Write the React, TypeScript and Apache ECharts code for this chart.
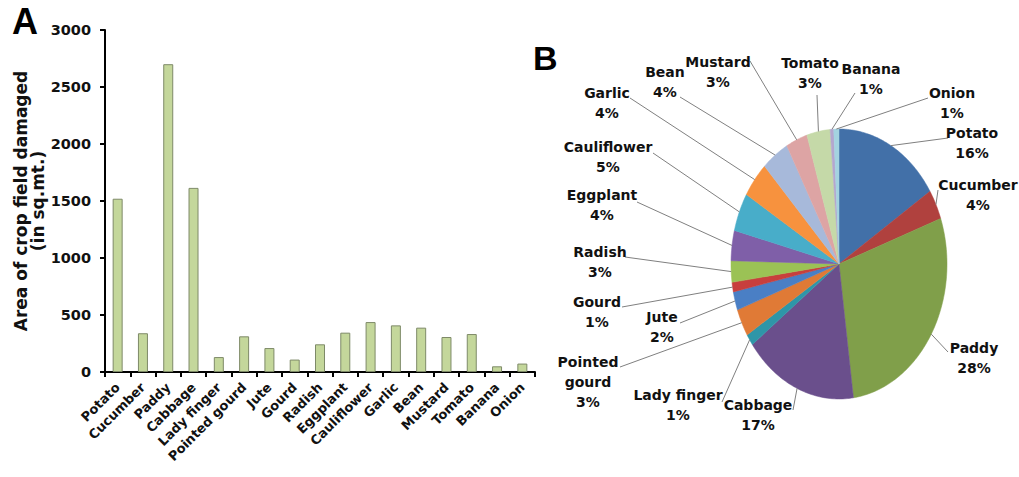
import { useEffect, useRef } from "react";
import * as echarts from "echarts";

const categories = [
  "Potato", "Cucumber", "Paddy", "Cabbage", "Lady finger", "Pointed gourd", "Jute", "Gourd",
  "Radish", "Eggplant", "Cauliflower", "Garlic", "Bean", "Mustard", "Tomato", "Banana", "Onion",
];
const areaDamaged = [1520, 340, 2700, 1615, 131, 313, 210, 109, 243, 345, 438, 409, 389, 307, 333, 50, 74];
const yAxisMin = 0;
const yAxisMax = 3000;
const yAxisStep = 500;

const pieLabelNames = [
  "Potato", "Cucumber", "Paddy", "Cabbage", "Lady finger", "Pointed\ngourd", "Jute", "Gourd",
  "Radish", "Eggplant", "Cauliflower", "Garlic", "Bean", "Mustard", "Tomato", "Banana", "Onion",
];
const sliceColors = [
  "#4270A8", "#B0413E", "#809F4A", "#6A4F8C", "#2E96A8", "#E07A36", "#4A7FC5", "#C83F3D",
  "#9BC255", "#7F5FA8", "#48ADC9", "#F7923E", "#A7B9DA", "#DDA4A4", "#C5D9A8", "#B4A7CE", "#A4D3E0",
];
// label block centre (tx, ty) and leader-line start (lx, ly)
const pieLabelLayout = [
  { tx: 972, ty: 143, lx: 948, ly: 138 },
  { tx: 978, ty: 195, lx: 938, ly: 190 },
  { tx: 974, ty: 358, lx: 948, ly: 352 },
  { tx: 758, ty: 415, lx: 793, ly: 410 },
  { tx: 678, ty: 405, lx: 722, ly: 402 },
  { tx: 588, ty: 382, lx: 620, ly: 367 },
  { tx: 662, ty: 327, lx: 680, ly: 323 },
  { tx: 597, ty: 312, lx: 622, ly: 307 },
  { tx: 600, ty: 262, lx: 625, ly: 257 },
  { tx: 602, ty: 205, lx: 637, ly: 202 },
  { tx: 608, ty: 157, lx: 653, ly: 153 },
  { tx: 607, ty: 103, lx: 630, ly: 98 },
  { tx: 665, ty: 82, lx: 680, ly: 97 },
  { tx: 718, ty: 72, lx: 750, ly: 61 },
  { tx: 810, ty: 73, lx: 817, ly: 95 },
  { tx: 871, ty: 79, lx: 855, ly: 93 },
  { tx: 952, ty: 103, lx: 928, ly: 98 },
];
const pieGeom = { cx: 839, cy: 264, rx: 108, ry: 135 };

const FONT = "'DejaVu Sans', Verdana, sans-serif";

export default function App() {
  const ref = useRef<HTMLDivElement>(null);

  useEffect(() => {
    if (!ref.current) return;
    document.body.style.margin = "0";
    const chart = echarts.init(ref.current, undefined, { renderer: "svg" });

    const total = areaDamaged.reduce((s, v) => s + v, 0);
    const cum: number[] = [];
    areaDamaged.reduce((s, v, i) => {
      cum[i] = s;
      return s + v;
    }, 0);

    const renderSlice = (params: any, api: any) => {
      const i = params.dataIndex;
      const v = api.value(0);
      const { cx, cy, rx, ry } = pieGeom;
      const a0 = (cum[i] / total) * Math.PI * 2;
      const a1 = a0 + (v / total) * Math.PI * 2;
      const pts: number[][] = [[cx, cy]];
      const n = Math.max(2, Math.ceil((a1 - a0) / 0.02));
      for (let k = 0; k <= n; k++) {
        const a = a0 + ((a1 - a0) * k) / n;
        pts.push([cx + rx * Math.sin(a), cy - ry * Math.cos(a)]);
      }
      const mid = (a0 + a1) / 2;
      const edge = [cx + rx * Math.sin(mid), cy - ry * Math.cos(mid)];
      const lay = pieLabelLayout[i];
      const pct = Math.round((v / total) * 100);
      return {
        type: "group",
        children: [
          {
            type: "polygon",
            shape: { points: pts },
            style: { fill: sliceColors[i], stroke: sliceColors[i], lineWidth: 0.5 },
          },
          {
            type: "polyline",
            shape: { points: [[lay.lx, lay.ly], edge] },
            style: { stroke: "#808080", lineWidth: 1, fill: null },
            z2: 10,
          },
          {
            type: "text",
            x: lay.tx,
            y: lay.ty,
            style: {
              text: pieLabelNames[i] + "\n" + pct + "%",
              fill: "#111",
              font: `bold 14px ${FONT}`,
              align: "center",
              verticalAlign: "middle",
              lineHeight: 20,
            },
            z2: 11,
          },
        ],
      };
    };

    chart.setOption({
      animation: false,
      backgroundColor: "#fff",
      graphic: [
        {
          type: "text",
          left: 12,
          top: 3,
          style: { text: "A", font: "bold 36px 'Liberation Sans', Arial, sans-serif", fill: "#000" },
        },
        {
          type: "text",
          left: 533,
          top: 41,
          style: { text: "B", font: "bold 34px 'Liberation Sans', Arial, sans-serif", fill: "#000" },
        },
      ],
      grid: { left: 105, top: 30, width: 430, bottom: 105, containLabel: false },
      xAxis: {
        type: "category",
        data: categories,
        boundaryGap: true,
        axisLine: { show: true, lineStyle: { color: "#000", width: 2 } },
        axisTick: { show: true, alignWithLabel: false, length: 5, lineStyle: { color: "#000", width: 2 } },
        axisLabel: {
          interval: 0,
          rotate: 45,
          margin: 13,
          color: "#111",
          fontWeight: "bold",
          fontSize: 13,
          fontFamily: FONT,
        },
      },
      yAxis: {
        type: "value",
        min: yAxisMin,
        max: yAxisMax,
        interval: yAxisStep,
        name: "Area of crop field damaged\n(in sq.mt.)",
        nameLocation: "middle",
        nameGap: 56,
        nameTextStyle: { fontWeight: "bold", fontSize: 17, fontFamily: FONT, color: "#111", lineHeight: 17 },
        splitLine: { show: false },
        axisLine: { show: true, lineStyle: { color: "#000", width: 2 } },
        axisTick: { show: true, length: 5, lineStyle: { color: "#000", width: 2 } },
        axisLabel: {
          margin: 14,
          color: "#111",
          fontWeight: "bold",
          fontSize: 14.5,
          fontFamily: FONT,
          formatter: (v: number) => String(v),
        },
      },
      series: [
        {
          type: "bar",
          data: areaDamaged,
          barWidth: 10,
          itemStyle: { color: "#C4D79B", borderColor: "#7E8A68", borderWidth: 1 },
        },
        {
          type: "custom",
          coordinateSystem: "none",
          data: areaDamaged,
          renderItem: renderSlice,
        },
      ],
    });

    return () => chart.dispose();
  }, []);

  return <div ref={ref} style={{ width: 1019, height: 477, position: "absolute", left: 0, top: 0 }} />;
}
